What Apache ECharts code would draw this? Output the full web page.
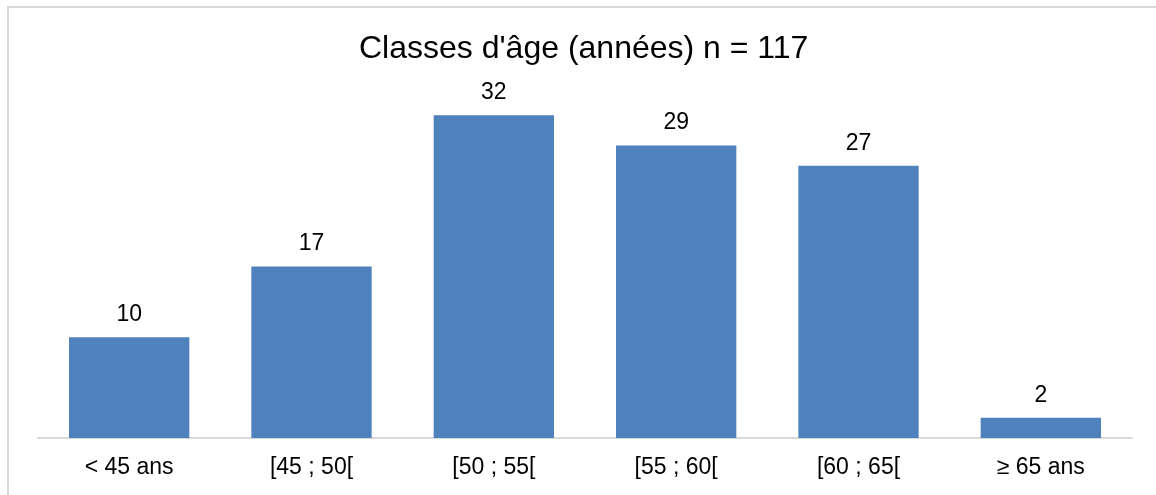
<!DOCTYPE html>
<html>
<head>
<meta charset="utf-8">
<script src="https://cdn.jsdelivr.net/npm/echarts@6/dist/echarts.min.js"></script>
<style>
  html, body { margin: 0; padding: 0; background: #fff; }
  #chart { width: 1156px; height: 495px; }
</style>
</head>
<body>
<div id="chart"></div>
<script>
const categories = ['< 45 ans', '[45 ; 50[', '[50 ; 55[', '[55 ; 60[', '[60 ; 65[', '≥ 65 ans']
const counts = [10, 17, 32, 29, 27, 2]
const titleText = "Classes d'âge (années) n = 117"

const font = "'Liberation Sans', Arial, sans-serif"
const chart = echarts.init(document.getElementById('chart'))
const option = {
  animation: false,
  title: {
    text: titleText,
    left: 354,
    top: 28,
    textStyle: { fontFamily: font, fontSize: 32, fontWeight: 'normal', color: '#000' }
  },
  // light frame like the original chart area
  graphic: [{
    type: 'rect',
    shape: { x: 8, y: 7, width: 1200, height: 600 },
    style: { fill: 'none', stroke: '#d9d9d9', lineWidth: 2 },
    silent: true
  }],
  grid: { left: 38, right: 24, top: 85, bottom: 57 },
  xAxis: {
    type: 'category',
    data: categories,
    axisTick: { show: false },
    axisLine: { lineStyle: { color: '#d9d9d9', width: 2 } },
    axisLabel: { fontFamily: font, fontSize: 23, color: '#000', margin: 18 }
  },
  yAxis: {
    type: 'value',
    min: 0,
    max: 35,
    show: false,
    splitLine: { show: false }
  },
  series: [{
    type: 'bar',
    data: counts,
    barWidth: '66%',
    itemStyle: { color: '#4f81bd' },
    label: {
      show: true,
      position: 'top',
      distance: 11,
      fontFamily: font,
      fontSize: 23,
      color: '#000'
    }
  }]
}
chart.setOption(option)
</script>
</body>
</html>
